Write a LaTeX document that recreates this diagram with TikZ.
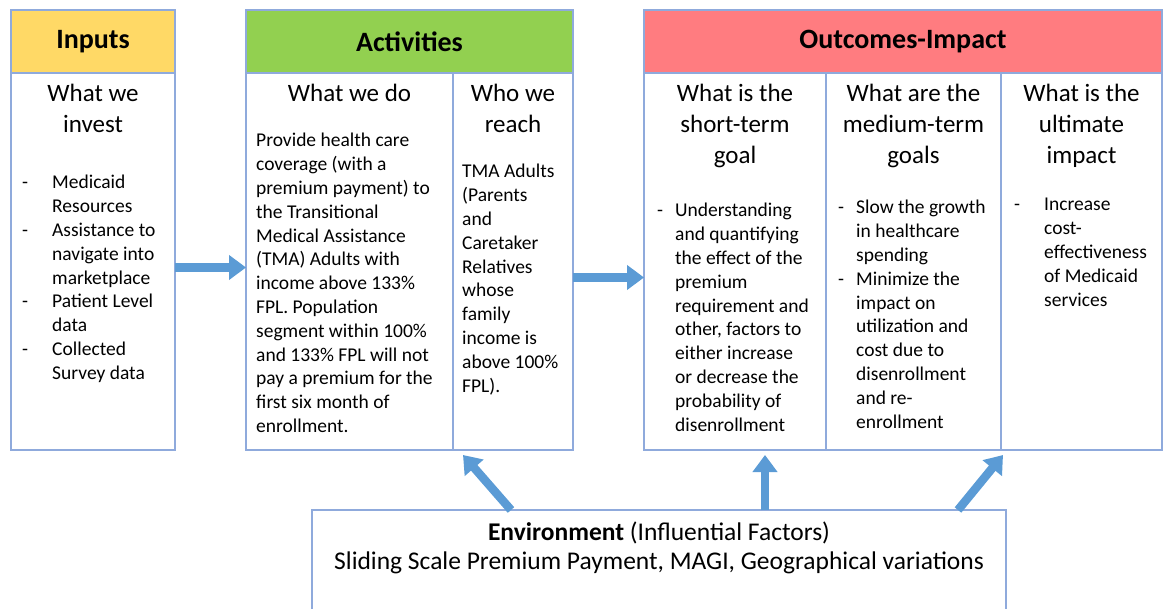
\documentclass[tikz,border=0pt]{standalone}
\usepackage{fontspec}
\setmainfont{Carlito}
\usetikzlibrary{arrows.meta, positioning}

\definecolor{framecol}{RGB}{143,170,220}
\definecolor{inputsyellow}{RGB}{255,217,102}
\definecolor{activitygreen}{RGB}{146,208,80}
\definecolor{outcomered}{RGB}{255,124,128}
\definecolor{flowblue}{RGB}{91,155,213}

\newcommand{\listdash}[1]{\makebox[#1][l]{-}}
\newcommand{\listgap}[1]{\hspace*{#1}}

\begin{document}
\begin{tikzpicture}[
  x=1pt, y=-1pt,
  frame/.style={draw=framecol, line width=1.3pt, outer sep=0pt},
  headbox/.style={frame, anchor=north west, minimum height=63pt, inner sep=0pt,
    font=\fontsize{28}{34}\selectfont\bfseries},
  col/.style={frame, anchor=north west, minimum height=377pt, inner sep=0pt},
  colhead/.style={inner sep=0pt, align=center, font=\fontsize{25}{31}\selectfont},
  coltext/.style={inner sep=0pt, align=left, font=\fontsize{19.5}{23.8}\selectfont},
  flow/.style={-{Triangle[length=17pt,width=24pt]}, line width=8.5pt, draw=flowblue}
]
\useasboundingbox (0,0) rectangle (1165,609);
\clip (0,0) rectangle (1165,609);

% Header bars
\node[headbox, fill=inputsyellow, minimum width=164pt] (inHead) at (11,10) {Inputs};
\node[headbox, fill=activitygreen, minimum width=327pt] (actHead) at (246,10) {Activities};
\node[headbox, fill=outcomered, minimum width=518pt] (outHead) at (644,10) {Outcomes-Impact};

% Columns
\node[col, minimum width=164pt] (inBody) at (inHead.south west) {};
\node[col, minimum width=207pt] (doCol) at (actHead.south west) {};
\node[col, minimum width=120pt] (reachCol) at (doCol.north east) {};
\node[col, minimum width=182pt] (shortCol) at (outHead.south west) {};
\node[col, minimum width=175pt] (midCol) at (shortCol.north east) {};
\node[col, minimum width=161pt] (ultCol) at (midCol.north east) {};

% Column questions
\node[colhead, below=7pt of inBody.north] (inQ) {\strut What we\\invest};
\node[colhead, below=7pt of doCol.north] (doQ) {\strut What we do};
\node[colhead, below=7pt of reachCol.north] (reachQ) {\strut Who we\\reach};
\node[colhead, below=7pt of shortCol.north] (shortQ) {\strut What is the\\short-term\\goal};
\node[colhead, below=7pt of midCol.north] (midQ) {\strut What are the\\medium-term\\goals};
\node[colhead, below=7pt of ultCol.north] (ultQ) {\strut What is the\\ultimate\\impact};

% Column texts
\node[coltext, below right=99pt and 11pt of inBody.north west] (inList) {%
\strut\listdash{30pt}Medicaid\\ \listgap{30pt}Resources\\
\listdash{30pt}Assistance to\\ \listgap{30pt}navigate into\\ \listgap{30pt}marketplace\\
\listdash{30pt}Patient Level\\ \listgap{30pt}data\\
\listdash{30pt}Collected\\ \listgap{30pt}Survey data};

\node[coltext, below right=57pt and 10pt of doCol.north west] (doText) {%
\strut Provide health care\\ coverage (with a\\ premium payment) to\\
the Transitional\\ Medical Assistance\\ (TMA) Adults with\\
income above 133\%\\ FPL. Population\\ segment within 100\%\\
and 133\% FPL will not\\ pay a premium for the\\ first six month of\\ enrollment.};

\node[coltext, below right=88pt and 9pt of reachCol.north west] (reachText) {%
\strut TMA Adults\\ (Parents\\ and\\ Caretaker\\ Relatives\\ whose\\ family\\
income is\\ above 100\%\\ FPL).};

\node[coltext, below right=127pt and 13pt of shortCol.north west] (shortText) {%
\strut\listdash{18pt}Understanding\\ \listgap{18pt}and quantifying\\
\listgap{18pt}the effect of the\\ \listgap{18pt}premium\\
\listgap{18pt}requirement and\\ \listgap{18pt}other, factors to\\
\listgap{18pt}either increase\\ \listgap{18pt}or decrease the\\
\listgap{18pt}probability of\\ \listgap{18pt}disenrollment};

\node[coltext, below right=124pt and 12pt of midCol.north west] (midText) {%
\strut\listdash{18pt}Slow the growth\\ \listgap{18pt}in healthcare\\
\listgap{18pt}spending\\
\listdash{18pt}Minimize the\\ \listgap{18pt}impact on\\
\listgap{18pt}utilization and\\ \listgap{18pt}cost due to\\
\listgap{18pt}disenrollment\\ \listgap{18pt}and re-\\ \listgap{18pt}enrollment};

\node[coltext, below right=121pt and 13pt of ultCol.north west] (ultText) {%
\strut\listdash{30pt}Increase\\ \listgap{30pt}cost-\\
\listgap{30pt}effectiveness\\ \listgap{30pt}of Medicaid\\ \listgap{30pt}services};

% Environment box
\node[frame, anchor=north west, minimum width=694pt, minimum height=120pt] (env) at (312,510) {};
\node[inner sep=0pt, align=center, font=\fontsize{25.5}{29}\selectfont,
  below=10pt of env.north] (envText) {%
\strut\textbf{Environment} (Influential Factors)\\
Sliding Scale Premium Payment, MAGI, Geographical variations};

% Arrows
\draw[flow] ([yshift=-6pt]inBody.east) -- ([yshift=-6pt]doCol.west);
\draw[flow] ([yshift=-16pt]reachCol.east) -- ([yshift=-16pt]shortCol.west);
\draw[flow] ([xshift=199pt]env.north west) -- ([xshift=10pt,yshift=-5pt]reachCol.south west);
\draw[flow] ([xshift=453pt]env.north west) -- ([xshift=-61pt,yshift=-5pt]midCol.south west);
\draw[flow] ([xshift=-48pt]env.north east) -- ([xshift=2pt,yshift=-5pt]ultCol.south west);

\end{tikzpicture}
\end{document}
